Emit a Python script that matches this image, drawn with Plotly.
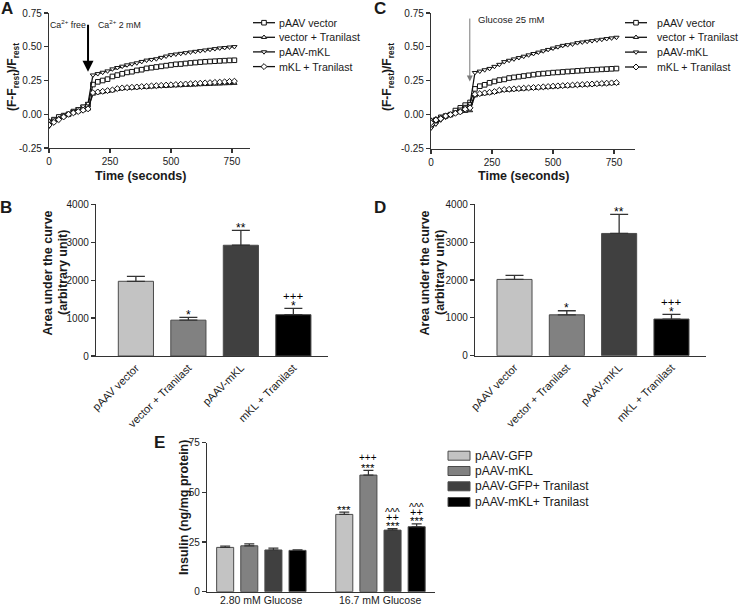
import plotly.graph_objects as go

W, H = 744, 606
FONT = "Liberation Sans, Arial, sans-serif"
TXT = "#1a1a1a"
AX = "#333333"

# ---------------- data ----------------
time_s = [0, 20, 40, 60, 80, 100, 120, 140, 160, 180, 200, 220, 240, 260, 280, 300, 320, 340, 360, 380,
          400, 420, 440, 460, 480, 500, 520, 540, 560, 580, 600, 620, 640, 660, 680, 700, 720, 740, 760]

line_series = ["pAAV vector", "vector + Tranilast", "pAAV-mKL", "mKL + Tranilast"]

# Panel A (Ca2+ 2 mM)
a_vector = [-0.06, -0.04, -0.02, -0.01, 0.00, 0.02, 0.03, 0.05, 0.07, 0.22, 0.24, 0.25, 0.26, 0.28, 0.29, 0.30,
            0.31, 0.315, 0.325, 0.33, 0.34, 0.345, 0.35, 0.355, 0.36, 0.365, 0.37, 0.372, 0.376, 0.38, 0.383,
            0.386, 0.389, 0.391, 0.393, 0.395, 0.397, 0.399, 0.40]
a_vector_tr = [-0.05, -0.04, -0.03, -0.01, 0.00, 0.01, 0.02, 0.03, 0.04, 0.15, 0.16, 0.165, 0.17, 0.175, 0.185,
               0.19, 0.192, 0.195, 0.197, 0.20, 0.20, 0.203, 0.205, 0.207, 0.208, 0.21, 0.212, 0.213, 0.215,
               0.216, 0.218, 0.22, 0.221, 0.222, 0.224, 0.225, 0.227, 0.228, 0.23]
a_mkl = [-0.09, -0.06, -0.04, -0.02, 0.00, 0.02, 0.04, 0.06, 0.08, 0.29, 0.30, 0.31, 0.32, 0.335, 0.345, 0.355,
         0.365, 0.372, 0.38, 0.39, 0.40, 0.405, 0.41, 0.42, 0.43, 0.44, 0.445, 0.45, 0.455, 0.46, 0.465, 0.47,
         0.475, 0.48, 0.485, 0.49, 0.493, 0.497, 0.50]
a_mkl_tr = [-0.08, -0.06, -0.04, -0.02, 0.00, 0.01, 0.02, 0.03, 0.04, 0.16, 0.165, 0.17, 0.175, 0.18, 0.19,
            0.195, 0.197, 0.20, 0.202, 0.205, 0.207, 0.21, 0.212, 0.214, 0.216, 0.218, 0.22, 0.222, 0.224,
            0.226, 0.228, 0.23, 0.232, 0.234, 0.236, 0.238, 0.24, 0.243, 0.245]

# Panel C (Glucose 25 mM)
c_vector = [-0.05, -0.04, -0.02, -0.01, 0.00, 0.03, 0.05, 0.07, 0.09, 0.19, 0.21, 0.22, 0.235, 0.245, 0.255,
            0.26, 0.27, 0.275, 0.28, 0.285, 0.29, 0.295, 0.30, 0.303, 0.306, 0.31, 0.312, 0.315, 0.318, 0.32,
            0.323, 0.325, 0.328, 0.33, 0.332, 0.334, 0.336, 0.338, 0.34]
c_vector_tr = [-0.04, -0.03, -0.02, -0.01, 0.00, 0.01, 0.02, 0.025, 0.03, 0.14, 0.15, 0.155, 0.16, 0.165, 0.175,
               0.18, 0.182, 0.185, 0.187, 0.19, 0.193, 0.195, 0.198, 0.20, 0.202, 0.205, 0.207, 0.21, 0.212,
               0.214, 0.216, 0.218, 0.22, 0.222, 0.224, 0.226, 0.228, 0.23, 0.232]
c_mkl = [-0.10, -0.07, -0.04, -0.02, 0.00, 0.02, 0.04, 0.06, 0.08, 0.31, 0.32, 0.33, 0.34, 0.355, 0.37, 0.39,
         0.40, 0.41, 0.42, 0.43, 0.44, 0.45, 0.46, 0.47, 0.48, 0.49, 0.50, 0.51, 0.515, 0.52, 0.53, 0.535,
         0.54, 0.545, 0.55, 0.555, 0.56, 0.565, 0.57]
c_mkl_tr = [-0.06, -0.04, -0.03, -0.01, 0.00, 0.01, 0.02, 0.04, 0.05, 0.15, 0.155, 0.16, 0.165, 0.17, 0.18,
            0.185, 0.187, 0.19, 0.192, 0.195, 0.197, 0.20, 0.202, 0.205, 0.207, 0.21, 0.212, 0.214, 0.216,
            0.218, 0.22, 0.222, 0.224, 0.226, 0.228, 0.23, 0.232, 0.234, 0.236]

line_ticks = [-0.25, 0.0, 0.25, 0.5, 0.75]
line_ticktext = ["-0.25", "0.00", "0.25", "0.50", "0.75"]

# Panels B / D (area under the curve)
auc_labels = ["pAAV vector", "vector + Tranilast", "pAAV-mKL", "mKL + Tranilast"]
b_auc = [1970, 945, 2920, 1090]
b_err = [130, 72, 395, 167]
b_sig = [[], ["*"], ["**"], ["+++", "*"]]
d_auc = [2015, 1080, 3230, 968]
d_err = [108, 108, 503, 124]
d_sig = [[], ["*"], ["**"], ["+++", "*"]]

# Panel E (insulin)
e_groups = ["2.80 mM Glucose", "16.7 mM Glucose"]
e_series = ["pAAV-GFP", "pAAV-mKL", "pAAV-GFP+ Tranilast", "pAAV-mKL+ Tranilast"]
e_gfp = [22.3, 38.9]
e_gfp_err = [0.7, 1.2]
e_mkl = [23.1, 58.7]
e_mkl_err = [1.0, 2.4]
e_gfp_tr = [21.0, 31.0]
e_gfp_tr_err = [0.9, 0.7]
e_mkl_tr = [20.8, 32.7]
e_mkl_tr_err = [0.3, 1.4]
e_sig = [[[], ["***"]], [[], ["+++", "***"]], [[], ["^^^", "++", "***"]], [[], ["^^^", "++", "***"]]]

# ---------------- styles ----------------
bar_colors = ["#c3c3c3", "#818181", "#404040", "#000000"]
symbols = ["square", "triangle-up", "triangle-down", "diamond"]
# (yshift px above error-bar top, font size)
sig_style_bd = {"*": (2.5, 12), "**": (2.5, 12), "+++": (12.5, 11.5)}
sig_style_e = {"***": (2.5, 11.5), "+++": (12.5, 10), "++": (12, 11), "^^^": (17, 10.5)}
MSIZE = 4.6


def xd(a, b):
    return [a / W, b / W]


def yd(top, bottom):
    return [1 - bottom / H, 1 - top / H]


fig = go.Figure()

# ---------- line panels ----------
def add_lines(xa, ya, series):
    for name, vals, sym in zip(line_series, series, symbols):
        fig.add_trace(go.Scatter(
            x=time_s, y=vals, mode="lines+markers", name=name, showlegend=False,
            xaxis=xa, yaxis=ya,
            line=dict(color="#111111", width=1.25),
            marker=dict(symbol=sym, size=MSIZE, color="white", line=dict(color="#111111", width=1)),
        ))

add_lines("x", "y", [a_vector, a_vector_tr, a_mkl, a_mkl_tr])
add_lines("x3", "y3", [c_vector, c_vector_tr, c_mkl, c_mkl_tr])

# ---------- AUC bar panels ----------
def add_auc(xa, ya, vals, errs):
    fig.add_trace(go.Bar(
        x=list(range(len(auc_labels))), y=vals, width=0.67, showlegend=False,
        xaxis=xa, yaxis=ya,
        marker=dict(color=bar_colors, line=dict(color="#4a4a4a", width=1)),
        error_y=dict(type="data", symmetric=False, array=errs, arrayminus=[0] * len(errs),
                     color="#333333", thickness=1.3, width=9),
    ))

add_auc("x2", "y2", b_auc, b_err)
add_auc("x4", "y4", d_auc, d_err)

# ---------- insulin panel ----------
e_vals = [e_gfp, e_mkl, e_gfp_tr, e_mkl_tr]
e_errs = [e_gfp_err, e_mkl_err, e_gfp_tr_err, e_mkl_tr_err]
for i, (name, vals, errs) in enumerate(zip(e_series, e_vals, e_errs)):
    fig.add_trace(go.Bar(
        x=list(range(len(e_groups))), y=vals, name=name, showlegend=False,
        width=0.143, offset=-0.374 + i * 0.2025,
        xaxis="x5", yaxis="y5",
        marker=dict(color=bar_colors[i], line=dict(color="#4a4a4a", width=1)),
        error_y=dict(type="data", symmetric=False, array=errs, arrayminus=[0] * len(errs),
                     color="#333333", thickness=1.2, width=5),
    ))

# ---------- manual legends (pixel overlay axis) ----------
legA = dict(x0=253, x1=275, xt=277, rows=[22.7, 37.3, 51.9, 66.6])
legC = dict(x0=625, x1=647, xt=655, rows=[22.7, 37.3, 52.1, 67.0])
for leg in (legA, legC):
    for name, sym, yy in zip(line_series, symbols, leg["rows"]):
        fig.add_trace(go.Scatter(x=[leg["x0"], leg["x1"]], y=[yy, yy], mode="lines", showlegend=False,
                                 xaxis="x6", yaxis="y6", line=dict(color="#111111", width=1.3),
                                 hoverinfo="skip"))
        fig.add_trace(go.Scatter(x=[(leg["x0"] + leg["x1"]) / 2], y=[yy], mode="markers", showlegend=False,
                                 xaxis="x6", yaxis="y6", hoverinfo="skip",
                                 marker=dict(symbol=sym, size=MSIZE, color="white",
                                             line=dict(color="#111111", width=1))))

annotations = []
shapes = []
for leg in (legA, legC):
    for name, yy in zip(line_series, leg["rows"]):
        annotations.append(dict(x=leg["xt"], y=yy, xref="x6", yref="y6", text=name, showarrow=False,
                                xanchor="left", yanchor="middle", font=dict(size=10.6, color=TXT, family=FONT)))

legE_rows = [455.7, 471.0, 486.3, 502.0]
for i, (name, yy) in enumerate(zip(e_series, legE_rows)):
    shapes.append(dict(type="rect", xref="x6", yref="y6", x0=448, x1=470, y0=yy - 4.5, y1=yy + 4.5,
                       fillcolor=bar_colors[i], line=dict(color="#4a4a4a", width=1)))
    annotations.append(dict(x=472.5, y=yy, xref="x6", yref="y6", text=name, showarrow=False,
                            xanchor="left", yanchor="middle", font=dict(size=12, color=TXT, family=FONT)))

# ---------- significance marks ----------
def add_sig(xa, ya, xs, tops, sigs, style):
    for x, top, marks in zip(xs, tops, sigs):
        for m in marks:
            shift, size = style[m]
            annotations.append(dict(x=x, y=top, xref=xa, yref=ya, text=m, showarrow=False,
                                    xanchor="center", yanchor="middle", yshift=shift,
                                    font=dict(size=size, color="#000000", family=FONT)))

add_sig("x2", "y2", range(4), [v + e for v, e in zip(b_auc, b_err)], b_sig, sig_style_bd)
add_sig("x4", "y4", range(4), [v + e for v, e in zip(d_auc, d_err)], d_sig, sig_style_bd)
for i in range(4):
    xs = [g - 0.374 + i * 0.2025 + 0.0715 for g in range(len(e_groups))]
    add_sig("x5", "y5", xs, [v + e for v, e in zip(e_vals[i], e_errs[i])], e_sig[i], sig_style_e)

# E group labels (category text under the axis)
for g, label in enumerate(e_groups):
    annotations.append(dict(x=g, y=599.5, xref="x5", yref="y6", text=label, showarrow=False,
                            xanchor="center", yanchor="middle", font=dict(size=10.5, color=TXT, family=FONT)))

# ---------- titles, labels, arrows ----------
def ptxt(x, y, text, size, bold=False, angle=0, anchor="center"):
    annotations.append(dict(x=x, y=y, xref="x6", yref="y6", text=("<b>%s</b>" % text) if bold else text,
                            showarrow=False, xanchor=anchor, yanchor="middle", textangle=angle,
                            font=dict(size=size, color=TXT, family=FONT)))

for letter, (px, py) in zip("ABCDE", [(6.5, 8.5), (5.5, 207), (380, 8.5), (380, 207), (159, 442)]):
    ptxt(px, py, letter, 17, bold=True)

ytitle_line = "(F-F<sub>rest</sub>)/F<sub>rest</sub>"
ptxt(13, 77, ytitle_line, 12, bold=True, angle=-90)
ptxt(388, 77, ytitle_line, 12, bold=True, angle=-90)
ptxt(140, 176, "Time (seconds)", 12.5, bold=True)
ptxt(523, 176, "Time (seconds)", 12.5, bold=True)
ptxt(47.5, 273, "Area under the curve", 12.5, bold=True, angle=-90)
ptxt(63, 273, "(arbitrary unit)", 12.5, bold=True, angle=-90)
ptxt(424.5, 273, "Area under the curve", 12.5, bold=True, angle=-90)
ptxt(440, 273, "(arbitrary unit)", 12.5, bold=True, angle=-90)
ptxt(184, 508, "Insulin (ng/mg protein)", 12.5, bold=True, angle=-90)

ptxt(68, 24, "Ca<sup>2+</sup> free", 8.8)
ptxt(119, 24, "Ca<sup>2+</sup> 2 mM", 8.8)
ptxt(511, 19, "Glucose 25 mM", 9.5)

annotations.append(dict(x=160, y=0.315, xref="x", yref="y", ax=160, ay=0.675, axref="x", ayref="y",
                        showarrow=True, arrowhead=2, arrowsize=1.1, arrowwidth=2, arrowcolor="#000000",
                        text=""))
annotations.append(dict(x=159, y=0.245, xref="x3", yref="y3", ax=159, ay=0.72, axref="x3", ayref="y3",
                        showarrow=True, arrowhead=2, arrowsize=1.2, arrowwidth=1, arrowcolor="#7a7a7a",
                        text=""))

# ---------- axes ----------
tickfont = dict(size=10, color=TXT, family=FONT)
common = dict(showline=True, linecolor=AX, linewidth=1.2, ticks="outside", ticklen=4, tickwidth=1.2,
              tickcolor=AX, showgrid=False, zeroline=False, tickfont=tickfont, automargin=False,
              fixedrange=True)

layout_axes = dict(
    xaxis=dict(common, domain=xd(49, 250), range=[0, 824], tickvals=[0, 250, 500, 750], anchor="y"),
    yaxis=dict(common, domain=yd(13, 148), range=[-0.25, 0.75], tickvals=line_ticks,
               ticktext=line_ticktext, anchor="x"),
    xaxis3=dict(common, domain=xd(431, 635), range=[0, 836], tickvals=[0, 250, 500, 750], anchor="y3"),
    yaxis3=dict(common, domain=yd(13, 148.5), range=[-0.25, 0.75], tickvals=line_ticks,
                ticktext=line_ticktext, anchor="x3"),
    xaxis2=dict(common, domain=xd(96, 328), range=[-0.76, 3.66], tickvals=[0, 1, 2, 3],
                ticktext=auc_labels, tickangle=-45, ticks="", ticklen=0, anchor="y2",
                tickfont=dict(size=11, color=TXT, family=FONT)),
    yaxis2=dict(common, domain=yd(204.3, 356), range=[0, 4000], tickvals=[0, 1000, 2000, 3000, 4000],
                anchor="x2"),
    xaxis4=dict(common, domain=xd(475, 706), range=[-0.755, 3.66], tickvals=[0, 1, 2, 3],
                ticktext=auc_labels, tickangle=-45, ticks="", ticklen=0, anchor="y4",
                tickfont=dict(size=11, color=TXT, family=FONT)),
    yaxis4=dict(common, domain=yd(204.3, 355.7), range=[0, 4000], tickvals=[0, 1000, 2000, 3000, 4000],
                anchor="x4"),
    xaxis5=dict(common, domain=xd(207, 435), range=[-0.455, 1.459], tickvals=[0, 1],
                showticklabels=False, ticks="", ticklen=0, anchor="y5"),
    yaxis5=dict(common, domain=yd(442.7, 591.7), range=[0, 75], tickvals=[0, 25, 50, 75], anchor="x5"),
    xaxis6=dict(domain=[0, 1], range=[0, W], visible=False, fixedrange=True, anchor="y6"),
    yaxis6=dict(domain=[0, 1], range=[H, 0], visible=False, fixedrange=True, anchor="x6"),
)

fig.update_layout(
    width=W, height=H, margin=dict(l=0, r=0, t=0, b=0),
    paper_bgcolor="white", plot_bgcolor="rgba(0,0,0,0)",
    font=dict(family=FONT, color=TXT),
    showlegend=False, barmode="group", hovermode=False,
    annotations=annotations, shapes=shapes,
    **layout_axes,
)

fig.write_html(
    "out.html",
    config={"displayModeBar": False, "staticPlot": True},
    post_script="document.body.style.margin='0';document.body.style.padding='0';"
                "document.body.style.overflow='hidden';",
)
